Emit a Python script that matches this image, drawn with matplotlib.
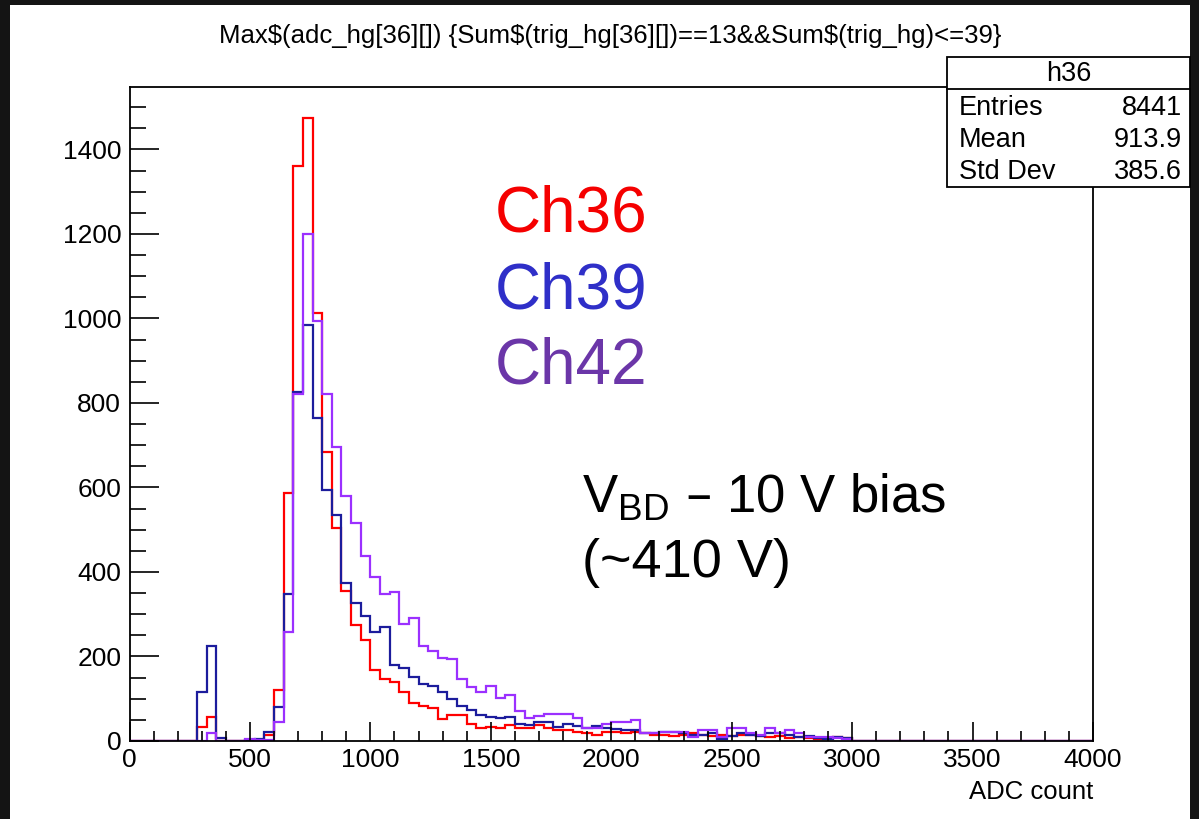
import numpy as np
import matplotlib
matplotlib.use("Agg")
import matplotlib.pyplot as plt
from matplotlib.patches import Rectangle
from matplotlib.ticker import MultipleLocator

plt.rcParams['font.family'] = ['Liberation Sans', 'DejaVu Sans']

# histogram binning: 100 bins of 40 ADC from 0 to 4000
edges = np.arange(0, 4001, 40)
first_bin = 280  # first listed bin starts at 280 ADC

# bin contents from 280 ADC up to 3000 ADC
ch36 = [32, 57, 0, 0, 0, 0, 3, 15, 120, 588, 1360, 1474, 1014, 683, 503, 355,
        274, 238, 169, 147, 139, 117, 91, 84, 79, 51, 61, 61, 40, 30, 34, 30,
        38, 30, 30, 38, 30, 26, 25, 22, 20, 15, 22, 22, 20, 22, 18, 15, 15, 12,
        15, 18, 15, 12, 15, 12, 14, 14, 12, 10, 12, 8, 10, 8, 5, 8, 10, 6]
ch39 = [117, 225, 7, 0, 0, 2, 5, 22, 80, 347, 825, 984, 765, 594, 534, 373,
        327, 295, 257, 270, 181, 173, 152, 135, 131, 117, 99, 83, 73, 61, 57, 54,
        57, 40, 38, 46, 46, 34, 40, 35, 30, 35, 30, 28, 25, 25, 20, 18, 22, 22,
        18, 15, 15, 18, 5, 12, 20, 15, 12, 20, 18, 15, 10, 12, 8, 5, 10, 8]
ch42 = [0, 20, 0, 0, 0, 5, 3, 3, 46, 258, 821, 1200, 993, 821, 695, 579,
        515, 437, 389, 348, 352, 278, 291, 225, 212, 197, 193, 147, 127, 115, 131, 102,
        110, 72, 55, 60, 65, 63, 65, 55, 30, 30, 40, 45, 45, 50, 20, 20, 22, 22,
        22, 10, 25, 25, 10, 30, 30, 20, 15, 30, 20, 25, 20, 10, 10, 10, 8, 5]

stats_name = "h36"
stats_rows = [("Entries", "8441"), ("Mean", "913.9"), ("Std Dev", "385.6")]
title = "Max$(adc_hg[36][]) {Sum$(trig_hg[36][])==13&&Sum$(trig_hg)<=39}"


def full(vals):
    out = np.zeros(len(edges) - 1)
    i0 = first_bin // 40
    out[i0:i0 + len(vals)] = vals
    return out


W, H = 1199, 819
fig = plt.figure(figsize=(W / 100, H / 100), dpi=100)
fig.patch.set_facecolor('#141414')
# white canvas inside the dark border
fig.add_artist(Rectangle((10 / W, 0), (1190 - 10) / W, 1 - 5 / H,
                         transform=fig.transFigure, facecolor='white',
                         edgecolor='none', zorder=-10))

x0, x1, y0, y1 = 129.5, 1093, 87, 741
ax = fig.add_axes([x0 / W, 1 - y1 / H, (x1 - x0) / W, (y1 - y0) / H])
ax.set_facecolor('white')

for vals, col in [(ch36, '#ff0000'), (ch39, '#1c1c9c'), (ch42, '#9b30ff')]:
    ax.stairs(full(vals), edges, color=col, lw=1.6, baseline=0)

ax.set_xlim(0, 4000)
ax.set_ylim(0, 1.05 * max(ch36))

for s in ax.spines.values():
    s.set_linewidth(1.3)
ax.xaxis.set_major_locator(MultipleLocator(500))
ax.xaxis.set_minor_locator(MultipleLocator(100))
ax.yaxis.set_major_locator(MultipleLocator(200))
ax.yaxis.set_minor_locator(MultipleLocator(50))
ax.tick_params(axis='y', which='major', direction='in', length=21, width=1.2,
               labelsize=19, pad=6)
ax.tick_params(axis='y', which='minor', direction='in', length=11.5, width=1.2)
ax.tick_params(axis='x', which='major', direction='in', length=14, width=1.2,
               labelsize=19, pad=5)
ax.tick_params(axis='x', which='minor', direction='in', length=7.5, width=1.2)
ax.set_xlabel("ADC count", fontsize=18.5, ha='right', x=1.0, labelpad=6)

fig.text(610 / W, 1 - 36 / H, title, ha='center', va='center', fontsize=18.5)

# stats box
bx0, bx1, by0, by1 = 947, 1190, 57, 187
fig.add_artist(Rectangle((bx0 / W, 1 - by1 / H), (bx1 - bx0) / W, (by1 - by0) / H,
                         transform=fig.transFigure, facecolor='white',
                         edgecolor='black', lw=1.3, zorder=5))
fig.add_artist(plt.Line2D([bx0 / W, bx1 / W], [1 - 89 / H, 1 - 89 / H],
                          transform=fig.transFigure, color='black', lw=1.3, zorder=6))
fig.text((bx0 + bx1) / 2 / W, 1 - 74 / H, stats_name, ha='center', va='center',
         fontsize=19.5, zorder=7)
for k, (lab, val) in enumerate(stats_rows):
    yy = 1 - (108 + 32 * k) / H
    fig.text(959 / W, yy, lab, ha='left', va='center', fontsize=19.5, zorder=7)
    fig.text(1182 / W, yy, val, ha='right', va='center', fontsize=19.5, zorder=7)

# channel labels
for k, (lab, col) in enumerate([("Ch36", '#f50000'), ("Ch39", '#2f2fc8'),
                                 ("Ch42", '#6b36a8')]):
    fig.text(495 / W, 1 - (215 + 76 * k) / H, lab, color=col, fontsize=46,
             ha='left', va='center')

fig.text(582 / W, 1 - 497 / H, r"V$_{\mathregular{BD}}$ – 10 V bias", fontsize=38,
         ha='left', va='center')
fig.text(582 / W, 1 - 563 / H, "(~410 V)", fontsize=39, ha='left', va='center')

fig.savefig("out.png", dpi=100, facecolor=fig.get_facecolor())
